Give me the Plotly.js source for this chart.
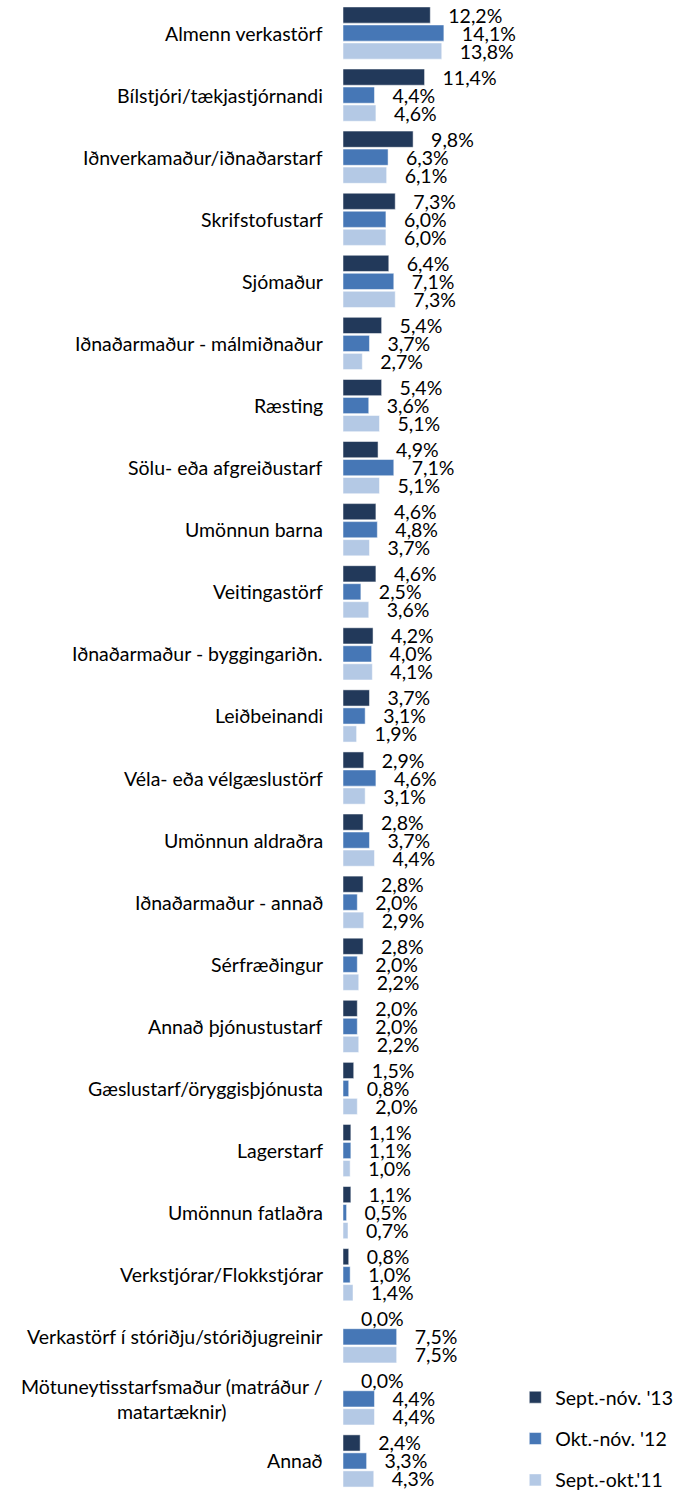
<!DOCTYPE html>
<html>
<head>
<meta charset="utf-8">
<script src="https://cdn.plot.ly/plotly-3.0.1.min.js"></script>
<style>html,body{margin:0;padding:0;background:#fff;}</style>
</head>
<body>
<div id="chart" style="width:675px;height:1492px;"></div>
<script>
var categories = [
  "Almenn verkastörf",
  "Bílstjóri/tækjastjórnandi",
  "Iðnverkamaður/iðnaðarstarf",
  "Skrifstofustarf",
  "Sjómaður",
  "Iðnaðarmaður - málmiðnaður",
  "Ræsting",
  "Sölu- eða afgreiðustarf",
  "Umönnun barna",
  "Veitingastörf",
  "Iðnaðarmaður - byggingariðn.",
  "Leiðbeinandi",
  "Véla- eða vélgæslustörf",
  "Umönnun aldraðra",
  "Iðnaðarmaður - annað",
  "Sérfræðingur",
  "Annað þjónustustarf",
  "Gæslustarf/öryggisþjónusta",
  "Lagerstarf",
  "Umönnun fatlaðra",
  "Verkstjórar/Flokkstjórar",
  "Verkastörf í stóriðju/stóriðjugreinir",
  "Mötuneytisstarfsmaður (matráður /<br>matartæknir)",
  "Annað"
];
var seriesNames = ["Sept.-nóv. '13", "Okt.-nóv. '12", "Sept.-okt.'11"];
var sept13 = [12.2, 11.4, 9.8, 7.3, 6.4, 5.4, 5.4, 4.9, 4.6, 4.6, 4.2, 3.7, 2.9, 2.8, 2.8, 2.8, 2.0, 1.5, 1.1, 1.1, 0.8, 0.0, 0.0, 2.4];
var okt12  = [14.1, 4.4, 6.3, 6.0, 7.1, 3.7, 3.6, 7.1, 4.8, 2.5, 4.0, 3.1, 4.6, 3.7, 2.0, 2.0, 2.0, 0.8, 1.1, 0.5, 1.0, 7.5, 4.4, 3.3];
var sept11 = [13.8, 4.6, 6.1, 6.0, 7.3, 2.7, 5.1, 5.1, 3.7, 3.6, 4.1, 1.9, 3.1, 4.4, 2.9, 2.2, 2.2, 2.0, 1.0, 0.7, 1.4, 7.5, 4.4, 4.3];

var colors = ["#22395A", "#4677B6", "#B4C9E5"];
var allSeries = [sept13, okt12, sept11];
var FONT = "Lato, 'Open Sans', sans-serif";
var FS = 19.5;

var traces = allSeries.map(function (vals, i) {
  return {
    type: "bar",
    orientation: "h",
    name: seriesNames[i],
    legendgroup: "g" + i,
    x: vals,
    y: categories,
    marker: { color: colors[i], line: { color: "rgba(255,255,255,0.5)", width: 1 } },
    texttemplate: "\u00a0\u00a0\u00a0%{x:.1f}%",
    textposition: "outside",
    constraintext: "none",
    cliponaxis: false,
    textfont: { family: FONT, size: FS, color: "#000" },
    hoverinfo: "skip"
  };
});

var annotations = categories.map(function (c) {
  return {
    xref: "paper", yref: "y",
    x: 0, y: c,
    xanchor: "right", yanchor: "middle",
    xshift: -18,
    text: c,
    align: "center",
    showarrow: false,
    font: { family: FONT, size: FS, color: "#000" }
  };
});

var layout = {
  width: 675,
  height: 1492,
  margin: { l: 343, r: 10, t: 2, b: 0, autoexpand: false },
  paper_bgcolor: "#fff",
  plot_bgcolor: "#fff",
  barmode: "group",
  bargap: 0.13,
  bargroupgap: 0.1,
  separators: ",.",
  showlegend: true,
  legend: {
    x: 0.535, y: 0.0765, xanchor: "left", yanchor: "top",
    font: { family: FONT, size: FS, color: "#000" },
    tracegroupgap: 13,
    bgcolor: "rgba(0,0,0,0)"
  },
  xaxis: {
    range: [0, 45],
    showgrid: false, zeroline: false, showline: false,
    showticklabels: false, ticks: "", fixedrange: true
  },
  yaxis: {
    type: "category",
    autorange: "reversed",
    showgrid: false, zeroline: false, showline: false,
    showticklabels: false, ticks: "", fixedrange: true
  },
  annotations: annotations
};

Plotly.newPlot("chart", traces, layout, { displayModeBar: false, staticPlot: true });
</script>
</body>
</html>
